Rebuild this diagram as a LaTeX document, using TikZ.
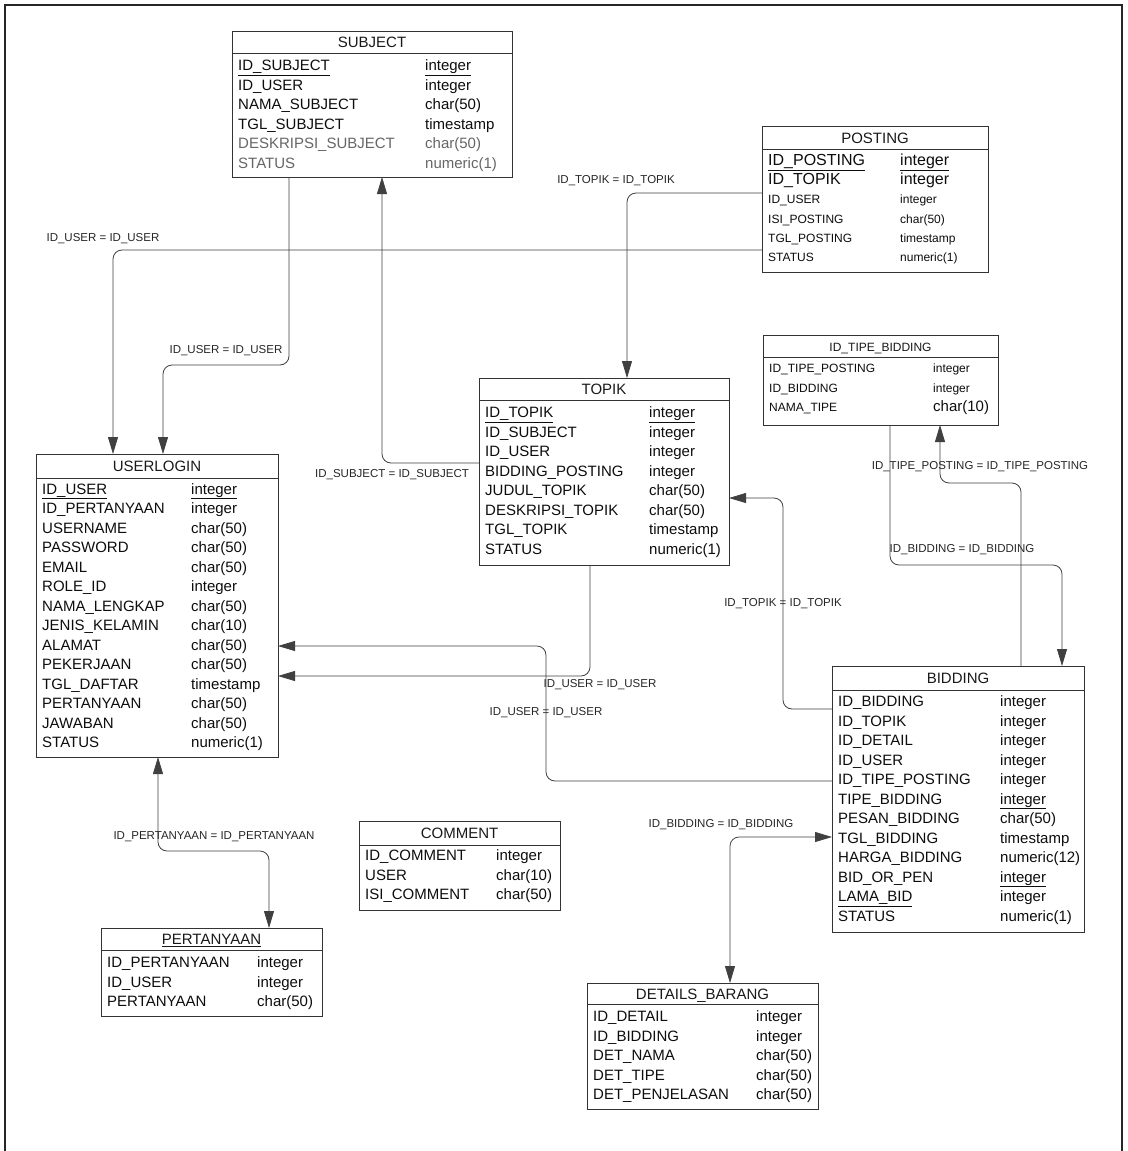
\documentclass[tikz,border=0pt]{standalone}
\usepackage{fontspec}
\setmainfont{Liberation Sans}
\usetikzlibrary{arrows.meta,calc}

\newcommand\smtxt{\fontsize{12}{14}\selectfont}
\newcommand\bigtxt{\fontsize{16}{18}\selectfont}
\newcommand\grtxt{\color{black!60}}

\tikzset{
  tbox/.style={draw=black!80, line width=0.9pt, fill=white, inner sep=0pt, outer sep=0pt, anchor=north west},
  tline/.style={draw=black!80, line width=0.9pt},
  ttl/.style={inner sep=0pt, text height=11pt, text depth=0pt, font=\fontsize{15}{18}\selectfont, text=black!90},
  cell/.style={anchor=west, inner sep=0pt, text height=11pt, text depth=0pt, font=\fontsize{15}{18}\selectfont, text=black!95},
  fk/.style={draw=black!75, line width=0.8pt, rounded corners=9pt},
  onehead/.style={-{Triangle[length=17pt,width=10pt]}},
  twohead/.style={{Triangle[length=17pt,width=10pt]}-{Triangle[length=17pt,width=10pt]}},
  rel/.style={inner sep=0pt, font=\fontsize{11.5}{13}\selectfont, text=black!85},
}

% table frame: name, left, top, width, height, header height, title
\newcommand\dbtable[7]{%
  \node[tbox, minimum width=#4, minimum height=#5] (#1) at (#2,#3) {};
  \draw[tline] ($(#1.north west)+(0,#6)$) -- ($(#1.north east)+(0,#6)$);
  \node[ttl] (#1-title) at ($(#1.north)+(0,#6/2)$) {#7};
}
% column rows: table name, x of names, x of types, y of first row, row pitch, list
\newcommand\dbrows[6]{%
  \foreach \nm/\ty [count=\i] in {#6} {
    \node[cell] (#1-n\i) at (#2,{#4+(\i-1)*#5}) {\nm};
    \node[cell] (#1-t\i) at (#3,{#4+(\i-1)*#5}) {\ty};
  }
}

\begin{document}
\begin{tikzpicture}[x=1pt,y=-1pt]
\useasboundingbox (0,0) rectangle (1127,1151);
\fill[white] (0,0) rectangle (1127,1151);

% page frame
\draw[line width=2.8pt, black!85] (5,1151) -- (5,5) -- (1122,5) -- (1122,1151);

% ---------- tables ----------
\dbtable{subject}{232}{31}{280}{146}{22}{SUBJECT}
\dbrows{subject}{238}{425}{65}{19.5}{
  \underline{ID\_SUBJECT}/\underline{integer},
  ID\_USER/integer,
  NAMA\_SUBJECT/char(50),
  TGL\_SUBJECT/timestamp,
  {\grtxt DESKRIPSI\_SUBJECT}/{\grtxt char(50)},
  {\grtxt STATUS}/{\grtxt numeric(1)}}

\dbtable{posting}{762}{126}{226}{146}{23}{POSTING}
\dbrows{posting}{768}{900}{160}{19.2}{
  {\bigtxt\underline{ID\_POSTING}}/{\bigtxt\underline{integer}},
  {\bigtxt ID\_TOPIK}/{\bigtxt integer},
  {\smtxt ID\_USER}/{\smtxt integer},
  {\smtxt ISI\_POSTING}/{\smtxt char(50)},
  {\smtxt TGL\_POSTING}/{\smtxt timestamp},
  {\smtxt STATUS}/{\smtxt numeric(1)}}

\dbtable{idtb}{763}{335}{235}{90}{22}{\smtxt ID\_TIPE\_BIDDING}
\dbrows{idtb}{769}{933}{367}{19.5}{
  {\smtxt ID\_TIPE\_POSTING}/{\smtxt integer},
  {\smtxt ID\_BIDDING}/{\smtxt integer},
  {\smtxt NAMA\_TIPE}/char(10)}

\dbtable{topik}{479}{378}{250}{187}{22}{TOPIK}
\dbrows{topik}{485}{649}{412}{19.5}{
  \underline{ID\_TOPIK}/\underline{integer},
  ID\_SUBJECT/integer,
  ID\_USER/integer,
  BIDDING\_POSTING/integer,
  JUDUL\_TOPIK/char(50),
  DESKRIPSI\_TOPIK/char(50),
  TGL\_TOPIK/timestamp,
  STATUS/numeric(1)}

\dbtable{userlogin}{36}{454}{242}{303}{24}{USERLOGIN}
\dbrows{userlogin}{42}{191}{488.5}{19.5}{
  \underline{ID\_USER}/\underline{integer},
  ID\_PERTANYAAN/integer,
  USERNAME/char(50),
  PASSWORD/char(50),
  EMAIL/char(50),
  ROLE\_ID/integer,
  NAMA\_LENGKAP/char(50),
  JENIS\_KELAMIN/char(10),
  ALAMAT/char(50),
  PEKERJAAN/char(50),
  TGL\_DAFTAR/timestamp,
  PERTANYAAN/char(50),
  JAWABAN/char(50),
  STATUS/numeric(1)}

\dbtable{bidding}{832}{666}{252}{266}{24}{BIDDING}
\dbrows{bidding}{838}{1000}{701}{19.5}{
  ID\_BIDDING/integer,
  ID\_TOPIK/integer,
  ID\_DETAIL/integer,
  ID\_USER/integer,
  ID\_TIPE\_POSTING/integer,
  TIPE\_BIDDING/\underline{integer},
  PESAN\_BIDDING/char(50),
  TGL\_BIDDING/timestamp,
  HARGA\_BIDDING/numeric(12),
  BID\_OR\_PEN/\underline{integer},
  \underline{LAMA\_BID}/integer,
  STATUS/numeric(1)}

\dbtable{comment}{359}{821}{201}{89}{24}{COMMENT}
\dbrows{comment}{365}{496}{855}{19.5}{
  ID\_COMMENT/integer,
  USER/char(10),
  ISI\_COMMENT/char(50)}

\dbtable{pertanyaan}{101}{928}{221}{88}{22}{\underline{PERTANYAAN}}
\dbrows{pertanyaan}{107}{257}{962}{19.5}{
  ID\_PERTANYAAN/integer,
  ID\_USER/integer,
  PERTANYAAN/char(50)}

\dbtable{details}{587}{983}{231}{126}{21}{DETAILS\_BARANG}
\dbrows{details}{593}{756}{1016}{19.5}{
  ID\_DETAIL/integer,
  ID\_BIDDING/integer,
  DET\_NAMA/char(50),
  DET\_TIPE/char(50),
  DET\_PENJELASAN/char(50)}

% ---------- relationships ----------
\draw[fk,onehead] ([xshift=57]subject.south west) |- (226,365) -| ([xshift=127]userlogin.north west);
\draw[fk,onehead] ([yshift=-124]posting.north west) -| ([xshift=77]userlogin.north west);
\draw[fk,onehead] ([yshift=-67]posting.north west) -| ([xshift=148]topik.north west);
\draw[fk,onehead] ([yshift=-85]topik.north west) -| ([xshift=150]subject.south west);
\draw[fk,onehead] ([xshift=111]topik.south west) |- ([yshift=-222]userlogin.north east);
\draw[fk,onehead] ([yshift=-115]bidding.north west) -| (546,700) |- ([yshift=-192]userlogin.north east);
\draw[fk,onehead] ([yshift=-43]bidding.north west) -| (783,600) |- ([yshift=-120]topik.north east);
\draw[fk,onehead] ([xshift=127]idtb.south west) |- (975,565) -| ([xshift=230]bidding.north west);
\draw[fk,onehead] ([xshift=189]bidding.north west) |- (980,483) -| ([xshift=177]idtb.south west);
\draw[fk,twohead] ([xshift=122]userlogin.south west) |- (214,851) -| ([xshift=168]pertanyaan.north west);
\draw[fk,twohead] ([yshift=-171]bidding.north west) -| ([xshift=143]details.north west);

% ---------- relationship labels ----------
\node[rel] (l-posting-user)  at (103,239) {ID\_USER = ID\_USER};
\node[rel] (l-subject-user)  at (226,351) {ID\_USER = ID\_USER};
\node[rel] (l-posting-topik) at (616,181) {ID\_TOPIK = ID\_TOPIK};
\node[rel] (l-topik-subject) at (392,475) {ID\_SUBJECT = ID\_SUBJECT};
\node[rel] (l-topik-user)    at (600,685) {ID\_USER = ID\_USER};
\node[rel] (l-bidding-user)  at (546,713) {ID\_USER = ID\_USER};
\node[rel] (l-bidding-topik) at (783,604) {ID\_TOPIK = ID\_TOPIK};
\node[rel] (l-tipe-bidding)  at (962,550) {ID\_BIDDING = ID\_BIDDING};
\node[rel] (l-bidding-tipe)  at (980,467) {ID\_TIPE\_POSTING = ID\_TIPE\_POSTING};
\node[rel] (l-user-tanya)    at (214,837) {ID\_PERTANYAAN = ID\_PERTANYAAN};
\node[rel] (l-bid-detail)    at (721,825) {ID\_BIDDING = ID\_BIDDING};
\end{tikzpicture}
\end{document}
